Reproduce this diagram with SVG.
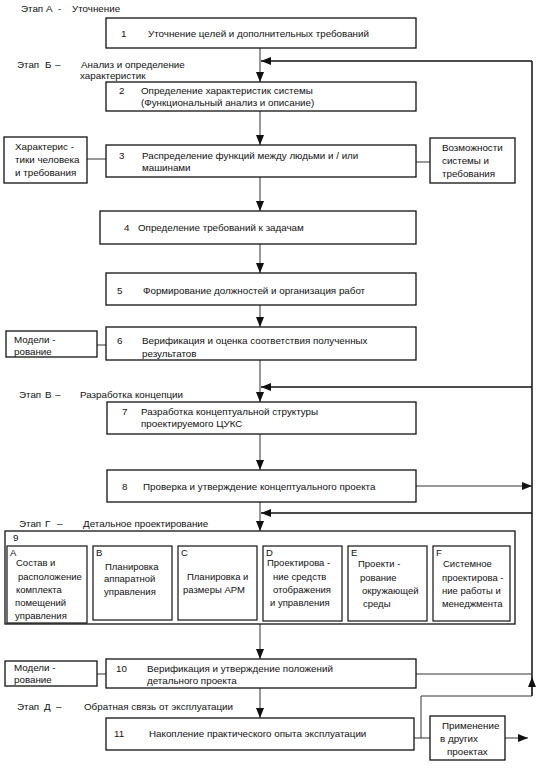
<svg xmlns="http://www.w3.org/2000/svg" width="538" height="769" viewBox="0 0 538 769">
<style>
text{font-family:"Liberation Sans",Arial,sans-serif;font-size:9.8px;fill:#111}
.sm{font-size:9.5px}
.box{fill:#fff;stroke:#111;stroke-width:1.3}
.sub{fill:#fff;stroke:#111;stroke-width:1.2}
.ln{fill:none;stroke:#333;stroke-width:1}
.fb{fill:none;stroke:#111;stroke-width:1.5}
</style>
<defs>
<marker id="ah" markerUnits="userSpaceOnUse" markerWidth="10" markerHeight="8" refX="10" refY="4" orient="auto">
<path d="M0,0 L10,4 L0,8 z" fill="#111"/>
</marker>
</defs>
<rect width="538" height="769" fill="#fff"/>

<g id="stages">
<text x="21" y="12">Этап А<tspan x="58">-</tspan><tspan x="72">Уточнение</tspan></text>
<text x="17" y="68">Этап<tspan x="45">Б</tspan><tspan x="55">–</tspan><tspan x="81">Анализ и определение</tspan></text>
<text x="80" y="79">характеристик</text>
<text x="19" y="398">Этап<tspan x="45">В</tspan><tspan x="55">–</tspan><tspan x="80">Разработка концепции</tspan></text>
<text x="19" y="527">Этап<tspan x="45">Г</tspan><tspan x="57">–</tspan><tspan x="83">Детальное проектирование</tspan></text>
<text x="17" y="710">Этап<tspan x="44">Д</tspan><tspan x="56">–</tspan><tspan x="84">Обратная связь от эксплуатации</tspan></text>
</g>

<g id="connectors">
<line class="ln" x1="260" y1="48" x2="260" y2="82" marker-end="url(#ah)"/>
<line class="ln" x1="260" y1="111" x2="260" y2="145" marker-end="url(#ah)"/>
<line class="ln" x1="260" y1="177" x2="260" y2="211" marker-end="url(#ah)"/>
<line class="ln" x1="260" y1="244" x2="260" y2="273" marker-end="url(#ah)"/>
<line class="ln" x1="260" y1="305" x2="260" y2="327" marker-end="url(#ah)"/>
<line class="ln" x1="260" y1="360" x2="260" y2="402" marker-end="url(#ah)"/>
<line class="ln" x1="260" y1="434" x2="260" y2="470" marker-end="url(#ah)"/>
<line class="ln" x1="260" y1="502" x2="260" y2="531" marker-end="url(#ah)"/>
<line class="ln" x1="260" y1="624" x2="260" y2="659" marker-end="url(#ah)"/>
<line class="ln" x1="260" y1="688" x2="260" y2="718" marker-end="url(#ah)"/>
<line class="fb" x1="532" y1="61" x2="532" y2="696"/>
<line class="fb" x1="532" y1="61" x2="261" y2="61" marker-end="url(#ah)"/>
<line class="fb" x1="532" y1="387" x2="261" y2="387" marker-end="url(#ah)"/>
<line class="fb" x1="532" y1="513" x2="261" y2="513" marker-end="url(#ah)"/>
<line class="ln" x1="416" y1="486" x2="532" y2="486" marker-end="url(#ah)"/>
<line class="ln" x1="416" y1="674" x2="532" y2="674"/>
<line class="ln" x1="532" y1="696" x2="532" y2="677" marker-end="url(#ah)"/>
<polyline class="ln" points="421,738 421,696 532,696"/>
<line class="ln" x1="414" y1="738" x2="430" y2="738"/>
<line class="ln" x1="505" y1="738" x2="528" y2="738" marker-end="url(#ah)"/>
<line class="ln" x1="87" y1="159" x2="106" y2="159"/>
<line class="ln" x1="416" y1="162" x2="430" y2="162"/>
<line class="ln" x1="97" y1="345" x2="106" y2="345"/>
<line class="ln" x1="97" y1="674" x2="106" y2="674"/>
</g>

<g id="n1"><rect class="box" x="106" y="18" width="310" height="30"/>
<text x="121" y="37">1</text><text x="148" y="37">Уточнение целей и дополнительных требований</text></g>

<g id="n2"><rect class="box" x="106" y="82" width="310" height="29"/>
<text x="119" y="94">2</text><text x="141" y="94">Определение характеристик системы</text>
<text x="141" y="106">(Функциональный анализ и описание)</text></g>

<g id="n3"><rect class="box" x="106" y="145" width="310" height="32"/>
<text x="119" y="159">3</text><text x="142" y="159">Распределение функций между людьми и / или</text>
<text x="142" y="171">машинами</text></g>

<g id="n3l"><rect class="box" x="4" y="137" width="83" height="46"/>
<text x="15" y="150">Характерис  -</text><text x="15" y="163">тики человека</text><text x="15" y="176">и требования</text></g>

<g id="n3r"><rect class="box" x="430" y="138" width="85" height="45"/>
<text x="442" y="151">Возможности</text><text x="442" y="164">системы и</text><text x="442" y="177">требования</text></g>

<g id="n4"><rect class="box" x="100" y="211" width="316" height="33"/>
<text x="124" y="231">4</text><text x="138" y="231">Определение требований к задачам</text></g>

<g id="n5"><rect class="box" x="106" y="273" width="310" height="32"/>
<text x="117" y="294">5</text><text x="143" y="294">Формирование должностей и организация работ</text></g>

<g id="n6"><rect class="box" x="106" y="327" width="310" height="33"/>
<text x="117" y="344">6</text><text x="142" y="344">Верификация и оценка соответствия полученных</text>
<text x="142" y="357">результатов</text></g>

<g id="n6l"><rect class="box" x="6" y="331" width="91" height="26"/>
<text x="14" y="343">Модели  -</text><text x="14" y="355">рование</text></g>

<g id="n7"><rect class="box" x="107" y="402" width="309" height="32"/>
<text x="122" y="415">7</text><text x="141" y="415">Разработка концептуальной структуры</text>
<text x="141" y="427">проектируемого ЦУКС</text></g>

<g id="n8"><rect class="box" x="107" y="470" width="309" height="32"/>
<text x="122" y="490">8</text><text x="143" y="490">Проверка и утверждение концептуального проекта</text></g>

<g id="n9"><rect class="box" x="5" y="531" width="510" height="93"/>
<text x="13" y="541">9</text>
<g id="n9a"><rect class="sub" x="7" y="546" width="80" height="77"/>
<text class="sm" x="10" y="556">A</text><text class="sm" x="16" y="566">Состав и</text><text class="sm" x="18" y="580">расположение</text><text class="sm" x="16" y="593">комплекта</text><text class="sm" x="15" y="606">помещений</text><text class="sm" x="15" y="619">управления</text></g>
<g id="n9b"><rect class="sub" x="93" y="546" width="79" height="74"/>
<text class="sm" x="96" y="556">B</text><text class="sm" x="105" y="570">Планировка</text><text class="sm" x="104" y="582">аппаратной</text><text class="sm" x="104" y="595">управления</text></g>
<g id="n9c"><rect class="sub" x="178" y="546" width="79" height="74"/>
<text class="sm" x="181" y="556">C</text><text class="sm" x="187" y="580">Планировка и</text><text class="sm" x="183" y="593">размеры АРМ</text></g>
<g id="n9d"><rect class="sub" x="263" y="546" width="79" height="75"/>
<text class="sm" x="266" y="556">D</text><text class="sm" x="267" y="566">Проектирова  -</text><text class="sm" x="273" y="580">ние средств</text><text class="sm" x="273" y="593">отображения</text><text class="sm" x="270" y="606">и управления</text></g>
<g id="n9e"><rect class="sub" x="348" y="546" width="79" height="75"/>
<text class="sm" x="351" y="556">E</text><text class="sm" x="358" y="567">Проекти  -</text><text class="sm" x="360" y="581">рование</text><text class="sm" x="362" y="594">окружающей</text><text class="sm" x="363" y="607">среды</text></g>
<g id="n9f"><rect class="sub" x="433" y="546" width="77" height="75"/>
<text class="sm" x="436" y="556">F</text><text class="sm" x="443" y="567">Системное</text><text class="sm" x="442" y="581">проектирова  -</text><text class="sm" x="442" y="594">ние работы и</text><text class="sm" x="442" y="607">менеджмента</text></g>
</g>

<g id="n10"><rect class="box" x="106" y="659" width="310" height="29"/>
<text x="116" y="672">10</text><text x="147" y="672">Верификация и утверждение положений</text>
<text x="147" y="684">детального проекта</text></g>

<g id="n10l"><rect class="box" x="5" y="661" width="92" height="25"/>
<text x="14" y="671">Модели  -</text><text x="14" y="683">рование</text></g>

<g id="n11"><rect class="box" x="106" y="718" width="308" height="32"/>
<text x="114" y="737">11</text><text x="149" y="737">Накопление практического опыта эксплуатации</text></g>

<g id="n12"><rect class="box" x="430" y="716" width="75" height="44"/>
<text x="442" y="729">Применение</text><text x="440" y="742">в других</text><text x="447" y="755">проектах</text></g>
</svg>
